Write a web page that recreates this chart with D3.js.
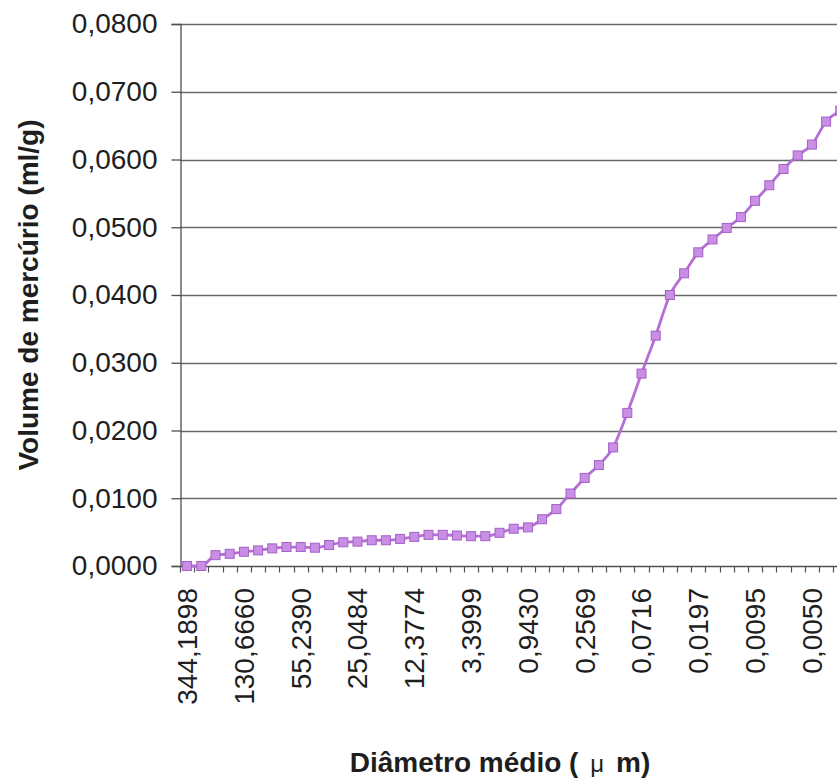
<!DOCTYPE html>
<html>
<head>
<meta charset="utf-8">
<script src="https://cdn.jsdelivr.net/npm/d3@7"></script>
<style>
  html, body { margin: 0; padding: 0; background: #ffffff; }
  svg { display: block; }
</style>
</head>
<body>
<svg id="chart" width="837" height="778"></svg>
<script>
// Mercury intrusion: cumulative volume per mean pore diameter class
const diameterLabels = ["344,1898", "130,6660", "55,2390", "25,0484", "12,3774", "3,3999",
                        "0,9430", "0,2569", "0,0716", "0,0197", "0,0095", "0,0050"];
const labelEvery = 4;
const mercuryVolume = [
  0.0000, 0.0000, 0.0016, 0.0018, 0.0021, 0.0023, 0.0026, 0.0028, 0.0028, 0.0027,
  0.0031, 0.0035, 0.0036, 0.0038, 0.0038, 0.0040, 0.0043, 0.0046, 0.0046, 0.0045,
  0.0044, 0.0044, 0.0049, 0.0055, 0.0057, 0.0069, 0.0084, 0.0107, 0.0130, 0.0149,
  0.0175, 0.0226, 0.0284, 0.0340, 0.0400, 0.0432, 0.0463, 0.0482, 0.0499, 0.0515,
  0.0539, 0.0562, 0.0586, 0.0606, 0.0622, 0.0656, 0.0672
];
const yTickValues = [0, 0.01, 0.02, 0.03, 0.04, 0.05, 0.06, 0.07, 0.08];

const svg = d3.select("#chart");
const plotLeft = 180, plotTop = 24, plotBottom = 566;
const band = 14.2;
const categories = d3.range(mercuryVolume.length);

const x = d3.scaleBand()
  .domain(categories)
  .range([plotLeft, plotLeft + band * categories.length])
  .padding(0);
const y = d3.scaleLinear().domain([0, 0.08]).range([plotBottom, plotTop]);

const ptBR = d3.formatLocale({ decimal: ",", thousands: ".", grouping: [3], currency: ["R$", ""] });
const fmt = ptBR.format(".4f");

const font = "'Liberation Sans', Arial, sans-serif";
const fontSize = 28;
const axisColor = "#505050";
const textColor = "#1e1e1e";

// horizontal gridlines
svg.append("g")
  .selectAll("line")
  .data(yTickValues.filter(v => v > 0))
  .join("line")
  .attr("x1", plotLeft).attr("x2", 837)
  .attr("y1", d => Math.round(y(d)) + 0.5).attr("y2", d => Math.round(y(d)) + 0.5)
  .attr("stroke", "#6a6a6a").attr("stroke-width", 1.3);

// y axis
const yAxis = svg.append("g")
  .attr("transform", `translate(${plotLeft + 0.5},0)`)
  .call(d3.axisLeft(y).tickValues(yTickValues).tickFormat(fmt).tickSize(9).tickPadding(14));
yAxis.select(".domain").attr("stroke", axisColor).attr("stroke-width", 1.3);
yAxis.selectAll(".tick line").attr("stroke", axisColor).attr("stroke-width", 1.3);
yAxis.selectAll(".tick text")
  .attr("font-family", font).attr("font-size", fontSize).attr("fill", textColor);

// x axis: ticks on category boundaries, labels on every fourth category
const xAxisG = svg.append("g").attr("transform", `translate(0,${plotBottom + 0.5})`);
xAxisG.append("line")
  .attr("x1", plotLeft).attr("x2", 837)
  .attr("stroke", axisColor).attr("stroke-width", 1.3);
xAxisG.selectAll("line.tick")
  .data(categories.concat([categories.length]))
  .join("line")
  .attr("class", "tick")
  .attr("x1", d => Math.round(plotLeft + band * d) + 0.5)
  .attr("x2", d => Math.round(plotLeft + band * d) + 0.5)
  .attr("y1", 0).attr("y2", 6)
  .attr("stroke", axisColor).attr("stroke-width", 1.2);

svg.append("g")
  .selectAll("text")
  .data(diameterLabels)
  .join("text")
  .attr("transform", (d, i) => {
    const cx = x(i * labelEvery) + x.bandwidth() / 2;
    return `translate(${cx},${plotBottom + 22}) rotate(-90)`;
  })
  .attr("text-anchor", "end")
  .attr("dy", "0.35em")
  .attr("font-family", font).attr("font-size", fontSize).attr("fill", textColor)
  .text(d => d);

// series line
const line = d3.line()
  .x((d, i) => x(i) + x.bandwidth() / 2)
  .y(d => y(d))
  .curve(d3.curveMonotoneX);

svg.append("path")
  .datum(mercuryVolume)
  .attr("d", line)
  .attr("fill", "none")
  .attr("stroke", "#b56fd6")
  .attr("stroke-width", 2.8);

// square markers
svg.append("g")
  .selectAll("rect")
  .data(mercuryVolume)
  .join("rect")
  .attr("x", (d, i) => x(i) + x.bandwidth() / 2 - 4.5)
  .attr("y", d => y(d) - 4.5)
  .attr("width", 9).attr("height", 9)
  .attr("fill", "#c88fe4")
  .attr("stroke", "#a460c8")
  .attr("stroke-width", 1);

// axis titles
svg.append("text")
  .attr("transform", `translate(38,${(plotTop + plotBottom) / 2}) rotate(-90)`)
  .attr("text-anchor", "middle")
  .attr("font-family", font).attr("font-size", fontSize).attr("font-weight", "bold").attr("fill", textColor)
  .text("Volume de mercúrio (ml/g)");

const xTitle = svg.append("text")
  .attr("x", 500).attr("y", 772)
  .attr("text-anchor", "middle")
  .attr("font-family", font).attr("font-size", fontSize).attr("font-weight", "bold").attr("fill", textColor)
  .attr("xml:space", "preserve")
  .style("white-space", "pre");
xTitle.append("tspan").text("Diâmetro médio ( ");
xTitle.append("tspan").attr("font-weight", "normal").attr("font-size", 24).attr("dx", 4).text("μ");
xTitle.append("tspan").attr("dx", 12).text("m)");
</script>
</body>
</html>
